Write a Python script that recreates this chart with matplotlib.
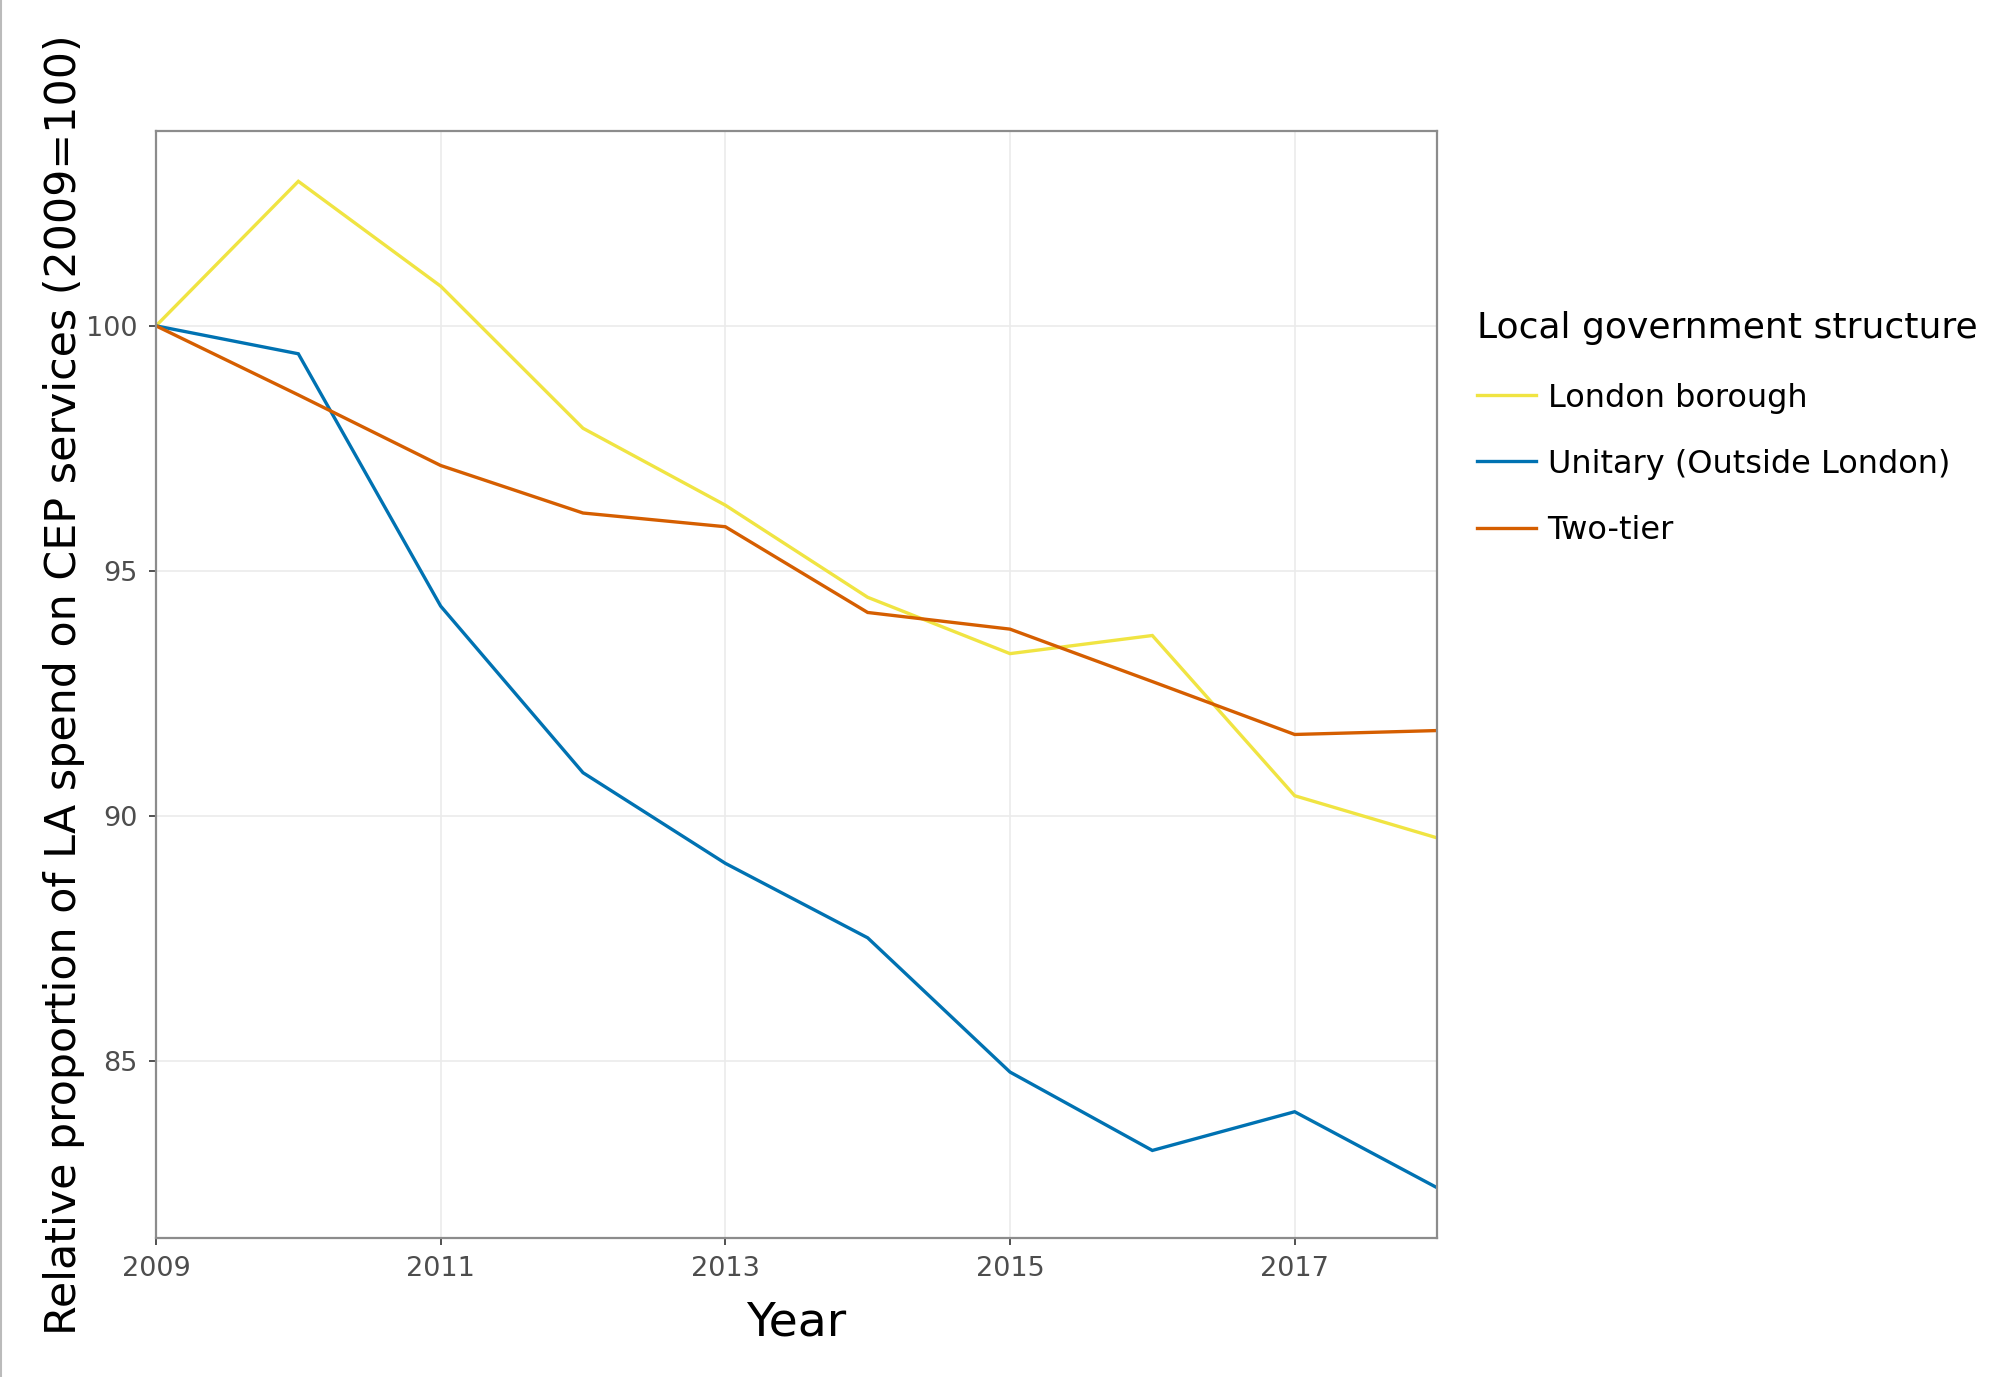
import matplotlib
matplotlib.use("Agg")
import matplotlib.pyplot as plt
from matplotlib.lines import Line2D

years = [2009, 2010, 2011, 2012, 2013, 2014, 2015, 2016, 2017, 2018]
london = [100.0, 102.95, 100.81, 97.91, 96.34, 94.46, 93.31, 93.68, 90.41, 89.55]
unitary = [100.0, 99.43, 94.28, 90.88, 89.03, 87.51, 84.77, 83.17, 83.96, 82.41]
two_tier = [100.0, 98.59, 97.15, 96.18, 95.90, 94.15, 93.81, 92.74, 91.66, 91.74]
series_names = ["London borough", "Unitary (Outside London)", "Two-tier"]
colors = ["#F0E442", "#0072B2", "#D55E00"]
xticks = [2009, 2011, 2013, 2015, 2017]
yticks = [85, 90, 95, 100]

plt.rcParams['font.family'] = ['DejaVu Sans']

W, H = 2008, 1377
fig = plt.figure(figsize=(W / 100, H / 100), dpi=100)
L, R, T, B = 156, 1437, 131, 1238
ax = fig.add_axes([L / W, 1 - B / H, (R - L) / W, (B - T) / H])

for vals, name, c in zip([london, unitary, two_tier], series_names, colors):
    ax.plot(years, vals, color=c, lw=2.4, label=name, solid_joinstyle='miter')

ymin, ymax = min(unitary), max(london)
pad = (ymax - ymin) * 0.05
ax.set_ylim(ymin - pad, ymax + pad)
ax.set_xlim(2009, 2018)
ax.set_xticks(xticks)
ax.set_xticklabels([str(x) for x in xticks])
ax.set_yticks(yticks)
ax.set_yticklabels([str(y) for y in yticks])
ax.grid(True, color="#ebebeb", lw=1.2)
ax.set_axisbelow(True)
for s in ax.spines.values():
    s.set_color("#8c8c8c")
    s.set_linewidth(1.6)
ax.tick_params(axis='both', length=5, width=1.2, color="#333333",
               labelsize=19.5, labelcolor="#4d4d4d", pad=8)

ax.set_xlabel("Year", fontsize=34, labelpad=13)
ax.set_ylabel("Relative proportion of LA spend on CEP services (2009=100)",
              fontsize=30.8, labelpad=1)

leg = ax.legend(loc='upper left', bbox_to_anchor=(1477 / W, 1 - 311 / H),
                bbox_transform=fig.transFigure, frameon=False,
                title="Local government structure", title_fontsize=26,
                fontsize=23, handlelength=1.85, handletextpad=0.36,
                labelspacing=1.1, borderaxespad=0, borderpad=0)
leg._legend_box.align = "left"
leg._legend_box.sep = 27

fig.add_artist(Line2D([1.5 / W, 1.5 / W], [0, 1], transform=fig.transFigure,
                      color="#bbbbbb", lw=1.5))

fig.savefig("out.png", dpi=100, facecolor="white")
